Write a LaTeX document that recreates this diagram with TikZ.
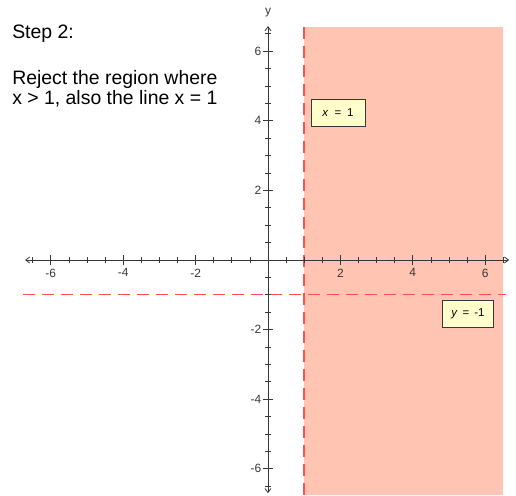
\documentclass[tikz,border=0pt]{standalone}
\usepackage{fontspec}
\setmainfont{Liberation Sans}
\usetikzlibrary{arrows.meta,positioning}
\definecolor{PlotInk}{HTML}{383838}
\definecolor{PlotRed}{HTML}{FF5050}
\definecolor{PlotShade}{HTML}{FFC5B2}
\definecolor{PlotNote}{HTML}{FFFFCC}
\tikzset{
  plot/axis/.style={
    draw=PlotInk, line width=.8pt,
    {Straight Barb[length=4bp,width=6bp]}-{Straight Barb[length=4bp,width=6bp]}
  },
  plot/major/.style={draw=PlotInk, line width=.8pt},
  plot/minor/.style={draw=PlotInk, line width=.7pt},
  plot/bound/.style={draw=PlotRed, line width=1.4pt, dash pattern=on 12bp off 7bp},
  plot/tick/.style={font=\fontsize{12}{13}\selectfont, text=PlotInk, inner sep=1.5bp},
  plot/note/.style={
    draw=PlotInk, fill=PlotNote, line width=.7pt,
    font=\fontsize{11.5}{13}\selectfont, inner sep=0pt,
    minimum height=27bp
  },
  plot/step/.style={font=\fontsize{19.5}{22}\selectfont, anchor=base west, inner sep=0pt}
}

\begin{document}
\begin{tikzpicture}[x=36.2bp,y=34.8bp]
  \useasboundingbox (-7.403,-6.753) rectangle (6.851,7.471);
  % rejected region x >= 1
  \fill[PlotShade] (1,-6.753) rectangle (6.5,6.7);
  % boundary lines
  \coordinate (vt) at (1,6.7);
  \coordinate (vb) at (1,-6.753);
  \coordinate (hl) at (-6.77,-1);
  \coordinate (hr) at (6.57,-1);
  \draw[plot/bound] (hl)--(hr);
  \draw[plot/bound] (vt)--(vb);
  % axes
  \coordinate (xl) at (-6.71,0);
  \coordinate (xr) at (6.66,0);
  \coordinate (yb) at (0,-6.7);
  \coordinate (yt) at (0,6.72);
  \draw[plot/axis] (xl)--(xr);
  \draw[plot/axis] (yb)--(yt);
  \node[plot/tick] (ylab) at (0,7.1) {y};
  \foreach \t in {-6.5,-6,...,6.5} {
    \draw[plot/minor] (\t,-2.7bp)--(\t,2.7bp);
    \draw[plot/minor] (-2.7bp,\t)--(2.7bp,\t);
  }
  \foreach \t in {-6,-4,-2,2,4,6} {
    \draw[plot/major] (\t,-5bp)--(\t,5bp);
    \draw[plot/major] (-5bp,\t)--(5bp,\t);
    \node[plot/tick,anchor=north] (xt\t) at (\t,-7bp) {\t};
    \node[plot/tick,anchor=east] (yt\t) at (-5bp,\t) {\t};
  }
  % labels
  \node[plot/note,minimum width=54bp] (linex) at (1.934,4.224)
    {\textit{x}\hspace{6bp}=\hspace{6bp}1};
  \node[plot/note,minimum width=51bp] (liney) at (5.525,-1.552)
    {\textit{y}\hspace{5bp}=\hspace{5bp}-1};
  \node[plot/step] (title) at (-7.07,6.378) {Step 2:};
  \node[plot/step] (task1) at (-7.07,5.057) {Reject the region where};
  \node[plot/step] (task2) at (-7.07,4.454) {x > 1, also the line x = 1};
\end{tikzpicture}
\end{document}
